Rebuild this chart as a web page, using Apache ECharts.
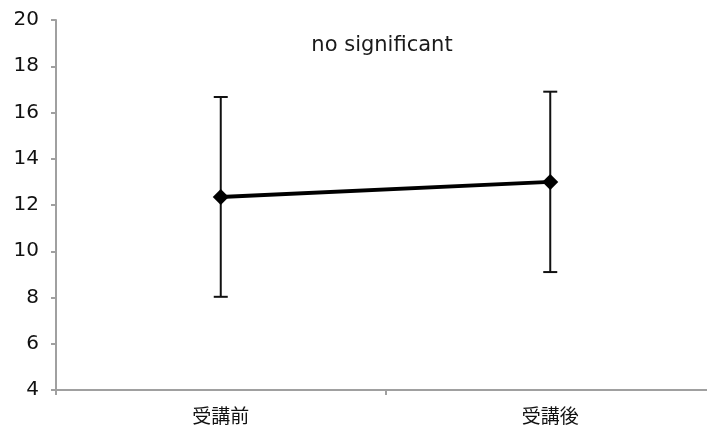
<!DOCTYPE html>
<html>
<head>
<meta charset="utf-8">
<script src="https://cdn.jsdelivr.net/npm/echarts@6/dist/echarts.min.js"></script>
<style>
  html, body { margin: 0; padding: 0; background: #fff; }
  #chart { width: 707px; height: 426px; }
</style>
</head>
<body>
<div id="chart"></div>
<script>
// Scores before and after the course, with ± error bars
const categories = ['受講前', '受講後'];
const means = [12.35, 13.0];
const upper = [16.67, 16.9];
const lower = [8.03, 9.1];
const yTicks = { min: 4, max: 20, interval: 2 };
const note = 'no significant';

const LATIN = '"DejaVu Sans", "Noto Sans CJK JP", sans-serif';
const CJK = '"Noto Sans CJK JP", sans-serif';

const chart = echarts.init(document.getElementById('chart'), null, { renderer: 'canvas' });

const errorData = categories.map((c, i) => [i, lower[i], upper[i]]);

chart.setOption({
  animation: false,
  backgroundColor: '#ffffff',
  grid: { left: 56, top: 20, width: 659, height: 370, containLabel: false, outerBoundsMode: 'none' },
  graphic: [{
    type: 'text',
    x: 382, y: 46,
    style: {
      text: note, x: 0, y: 0,
      align: 'center', verticalAlign: 'middle',
      font: '21px ' + LATIN, fill: '#1a1a1a'
    }
  }],
  xAxis: {
    type: 'category',
    data: categories,
    boundaryGap: true,
    axisLine: { lineStyle: { color: '#a0a0a0', width: 2 } },
    axisTick: { show: true, alignWithLabel: false, length: 5, lineStyle: { color: '#a0a0a0', width: 2 } },
    axisLabel: { fontFamily: CJK, fontSize: 19, color: '#111', margin: 16 },
    splitLine: { show: false }
  },
  yAxis: {
    type: 'value',
    min: yTicks.min, max: yTicks.max, interval: yTicks.interval,
    axisLine: { show: true, lineStyle: { color: '#a0a0a0', width: 2 } },
    axisTick: { show: true, length: 5, lineStyle: { color: '#a0a0a0', width: 2 } },
    axisLabel: { fontFamily: LATIN, fontSize: 20, color: '#111', margin: 17 },
    splitLine: { show: false }
  },
  series: [
    {
      type: 'custom',
      z: 1,
      data: errorData,
      renderItem: function (params, api) {
        const x = api.value(0);
        const lo = api.coord([x, api.value(1)]);
        const hi = api.coord([x, api.value(2)]);
        const cap = 7;
        const style = { stroke: '#111', lineWidth: 2 };
        return {
          type: 'group',
          children: [
            { type: 'line', shape: { x1: hi[0], y1: hi[1], x2: lo[0], y2: lo[1] }, style: style },
            { type: 'line', shape: { x1: hi[0] - cap, y1: hi[1], x2: hi[0] + cap, y2: hi[1] }, style: style },
            { type: 'line', shape: { x1: lo[0] - cap, y1: lo[1], x2: lo[0] + cap, y2: lo[1] }, style: style }
          ]
        };
      }
    },
    {
      type: 'line',
      z: 3,
      data: means,
      symbol: 'diamond',
      symbolSize: 16,
      itemStyle: { color: '#000' },
      lineStyle: { color: '#000', width: 4 }
    }
  ]
});
</script>
</body>
</html>
